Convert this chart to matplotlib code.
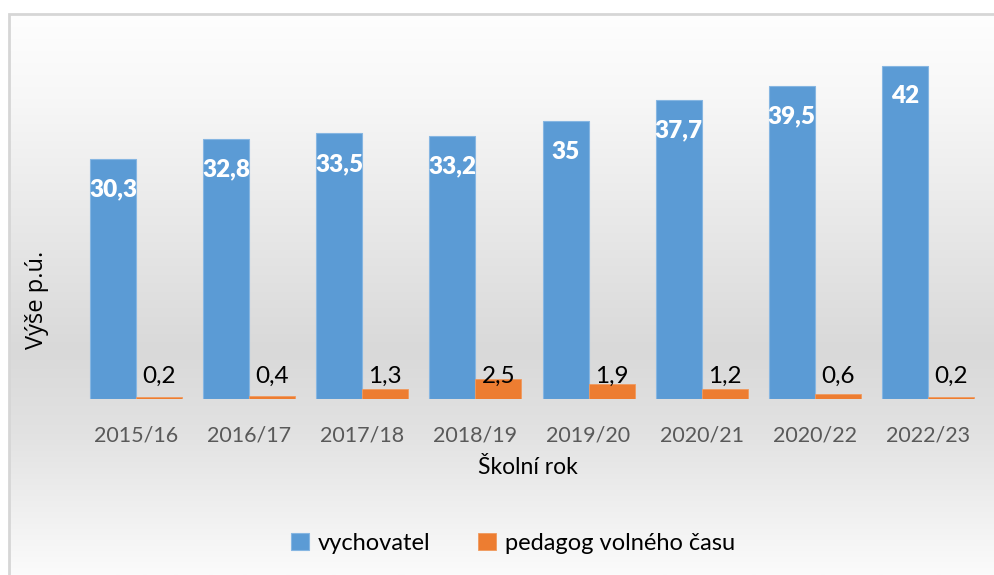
import numpy as np
import matplotlib
matplotlib.use("Agg")
import matplotlib.pyplot as plt
from matplotlib.colors import LinearSegmentedColormap
from matplotlib.patches import Rectangle

categories = ["2015/16", "2016/17", "2017/18", "2018/19", "2019/20", "2020/21", "2020/22", "2022/23"]
vychovatel = [30.3, 32.8, 33.5, 33.2, 35, 37.7, 39.5, 42]
pedagog = [0.2, 0.4, 1.3, 2.5, 1.9, 1.2, 0.6, 0.2]
series_names = ["vychovatel", "pedagog volného času"]

def fmt(v):
    s = ("%g" % v)
    return s.replace(".", ",")

W, H = 995, 575
fig = plt.figure(figsize=(W / 100, H / 100), dpi=100)
fig.patch.set_facecolor("white")

# gradient background frame
bg = fig.add_axes([9 / W, 0, 1 - 9 / W, (H - 14) / H], zorder=-10)
cmap = LinearSegmentedColormap.from_list(
    "g", [(0.0, "#fefefe"), (0.15, "#f7f7f7"), (0.6, "#d9d9d9"), (0.75, "#e2e2e2"), (1.0, "#fbfbfb")])
grad = np.linspace(0, 1, 256).reshape(-1, 1)
bg.imshow(grad, aspect="auto", cmap=cmap, extent=[0, 1, 1, 0])
bg.set_xlim(0, 1)
bg.set_ylim(1, 0)
bg.axis("off")
fig.patches.append(Rectangle((8.5 / W, -0.01), 1.1, (H - 13.5) / H + 0.01, transform=fig.transFigure,
                             fill=False, edgecolor="#d6d6d6", linewidth=2, zorder=-5))

base_y = 399
px_per_unit = 7.93
ymax = 45
top_y = base_y - ymax * px_per_unit
ax = fig.add_axes([79.5 / W, (H - base_y) / H, (984.5 - 79.5) / W, (base_y - top_y) / H])
ax.patch.set_alpha(0)
x = np.arange(len(categories))
bw = 0.407
b1 = ax.bar(x - bw / 2, vychovatel, bw, color="#5B9BD5", edgecolor="#86b6e2", linewidth=0.8,
            label=series_names[0])
b2 = ax.bar(x + bw / 2, pedagog, bw, color="#ED7D31", edgecolor="#f09a5e", linewidth=0.6,
            label=series_names[1])
ax.set_xlim(-0.5, len(categories) - 0.5)
ax.set_ylim(0, ymax)
for s in ax.spines.values():
    s.set_visible(False)
ax.set_yticks([])
ax.set_xticks(x)
ax.set_xticklabels(categories, fontsize=15.5, color="#595959", family="Lato")
ax.tick_params(axis="x", length=0, pad=19)

for xi, v in zip(x, vychovatel):
    ax.annotate(fmt(v), (xi - bw / 2, v), xytext=(0, -22), textcoords="offset points",
                ha="center", va="center", color="white", fontsize=17.5, fontweight="heavy", family="Lato")
for xi, v in zip(x, pedagog):
    ax.text(xi + bw / 2, 2.9, fmt(v), ha="center", va="center", color="black", fontsize=17.5, family="Lato")

fig.text(528 / W, 1 - 468 / H, "Školní rok", ha="center", va="center", fontsize=16.5, family="Lato")
fig.text(37 / W, 1 - 300 / H, "Výše p.ú.", ha="center", va="center", rotation=90, fontsize=17,
         family="Open Sans")

fig.legend(handles=[b1, b2], labels=series_names, loc="center", bbox_to_anchor=(513 / W, 1 - 543 / H),
           ncol=2, frameon=False, prop={"family": "Lato", "size": 17}, handlelength=0.75,
           handleheight=0.75, handletextpad=0.4, columnspacing=2.0)

fig.savefig("out.png", dpi=100)
